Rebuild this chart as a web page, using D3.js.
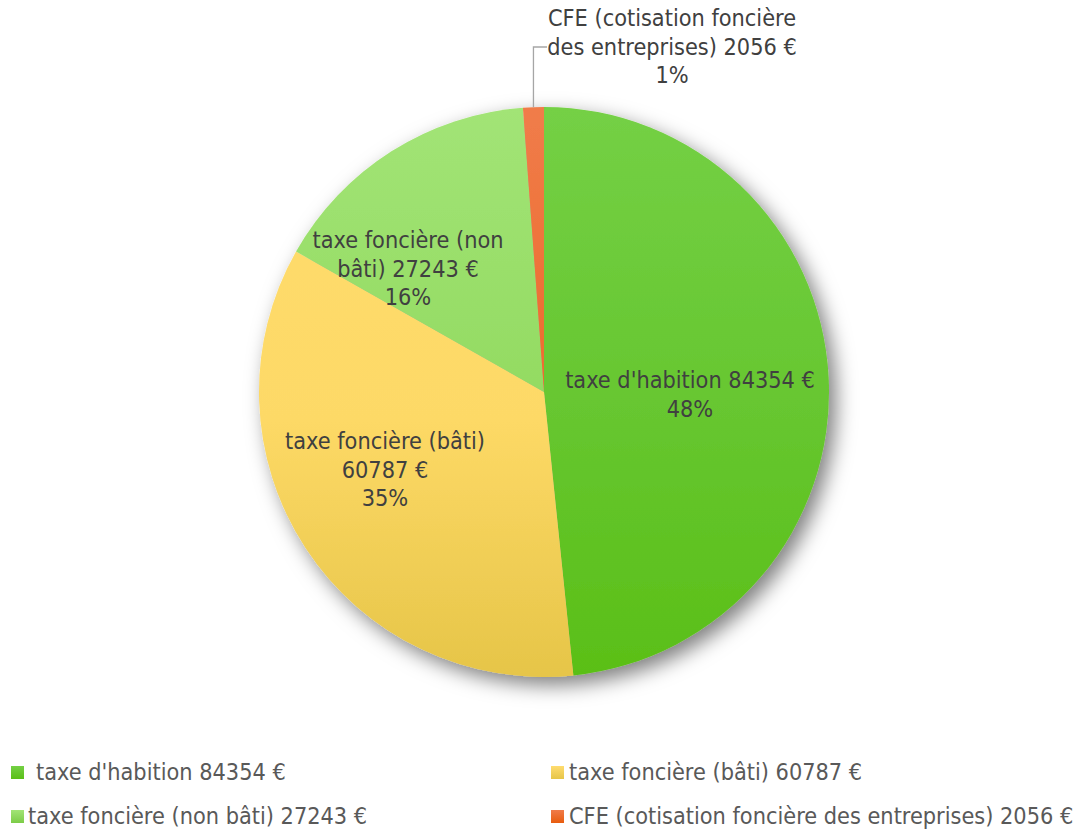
<!DOCTYPE html>
<html><head><meta charset="utf-8">
<script src="https://cdn.jsdelivr.net/npm/d3@7"></script>
<style>
html,body{margin:0;padding:0;background:#fff;}
svg{display:block;font-family:"DejaVu Sans Condensed","DejaVu Sans",sans-serif;font-stretch:condensed;}
</style></head>
<body>
<svg id="c" width="1092" height="832"></svg>
<script>
const categories = ["taxe d'habition", "taxe foncière (bâti)", "taxe foncière (non bâti)", "CFE (cotisation foncière des entreprises)"];
const values = [84354, 60787, 27243, 2056];
const percents = ["48%", "35%", "16%", "1%"];
const legendLabels = [" taxe d'habition 84354 €", "taxe foncière (bâti) 60787 €", "taxe foncière (non bâti) 27243 €", "CFE (cotisation foncière des entreprises) 2056 €"];
const sliceLabelLines = [
  ["taxe d'habition 84354 €", "48%"],
  ["taxe foncière (bâti)", "60787 €", "35%"],
  ["taxe foncière (non", "bâti) 27243 €", "16%"],
  ["CFE (cotisation foncière", "des entreprises) 2056 €", "1%"]
];

const gradStops = [
  ["#74d045", "#66c62f", "#5abf17"],
  ["#ffdc6f", "#fdd966", "#e6c548"],
  ["#a2e476", "#92da60", "#7ccc48"],
  ["#f07c4a", "#ec6a2a", "#e85c0e"]
];

const svg = d3.select("#c");
const cx = 544, cy = 392, R = 285;
const defs = svg.append("defs");

// fit font to reference width of a known label
const probe = svg.append("text").attr("font-size",20).text("taxe d'habition 84354 €");
const fs = 20 * 250 / probe.node().getComputedTextLength();
probe.remove();

const f = defs.append("filter").attr("id","sh").attr("x","-20%").attr("y","-20%").attr("width","140%").attr("height","140%");
f.append("feDropShadow").attr("dx",7).attr("dy",8).attr("stdDeviation",10).attr("flood-color","#000").attr("flood-opacity",0.5);

gradStops.forEach((g,i)=>{
  const lg = defs.append("linearGradient").attr("id","g"+i).attr("gradientUnits","userSpaceOnUse")
    .attr("x1",0).attr("y1",-R).attr("x2",0).attr("y2",R);
  lg.append("stop").attr("offset","0%").attr("stop-color",g[0]);
  lg.append("stop").attr("offset","55%").attr("stop-color",g[1]);
  lg.append("stop").attr("offset","100%").attr("stop-color",g[2]);
  const lg2 = defs.append("linearGradient").attr("id","lg"+i).attr("x1",0).attr("y1",0).attr("x2",0).attr("y2",1);
  lg2.append("stop").attr("offset","0%").attr("stop-color",g[0]);
  lg2.append("stop").attr("offset","100%").attr("stop-color",g[2]);
});

const pie = d3.pie().sort(null).value(d=>d);
const arcs = pie(values);
const arc = d3.arc().innerRadius(0).outerRadius(R);

const pg = svg.append("g").attr("transform",`translate(${cx},${cy})`);
pg.append("g").attr("filter","url(#sh)").selectAll("path").data(arcs).join("path")
  .attr("d",arc)
  .attr("fill",(d,i)=>`url(#g${i})`);

// slice labels
const labelPos = [
  {x:690, y:388},
  {x:385, y:449},
  {x:408, y:248},
  {x:672, y:26}
];
const lh = 28.5;
const lab = svg.append("g").attr("font-size",fs).attr("text-anchor","middle").attr("fill","#404040");
sliceLabelLines.forEach((lines,i)=>{
  const t = lab.append("text");
  lines.forEach((s,j)=>{
    t.append("tspan").attr("x",labelPos[i].x).attr("y",labelPos[i].y + j*lh).text(s);
  });
});

// leader line for CFE
const cfeAngle = (arcs[3].startAngle + arcs[3].endAngle)/2;
const ex = cx + Math.sin(cfeAngle)*R, ey = cy - Math.cos(cfeAngle)*R;
svg.append("path").attr("d",`M${ex},${ey}L${ex},47L547,47`).attr("fill","none").attr("stroke","#a6a6a6").attr("stroke-width",1.3);

// legend
const legPos = [
  {x:11, y:766, tx:36},
  {x:551, y:766, tx:569},
  {x:11, y:810, tx:28},
  {x:551, y:810, tx:569}
];
const lgG = svg.append("g").attr("font-size",fs).attr("fill","#595959");
legendLabels.forEach((s,i)=>{
  const p = legPos[i];
  lgG.append("rect").attr("x",p.x).attr("y",p.y).attr("width",13).attr("height",13).attr("fill",`url(#lg${i})`);
  lgG.append("text").attr("x",p.tx).attr("y",p.y+14).text(s.trim());
});
</script>
</body></html>
